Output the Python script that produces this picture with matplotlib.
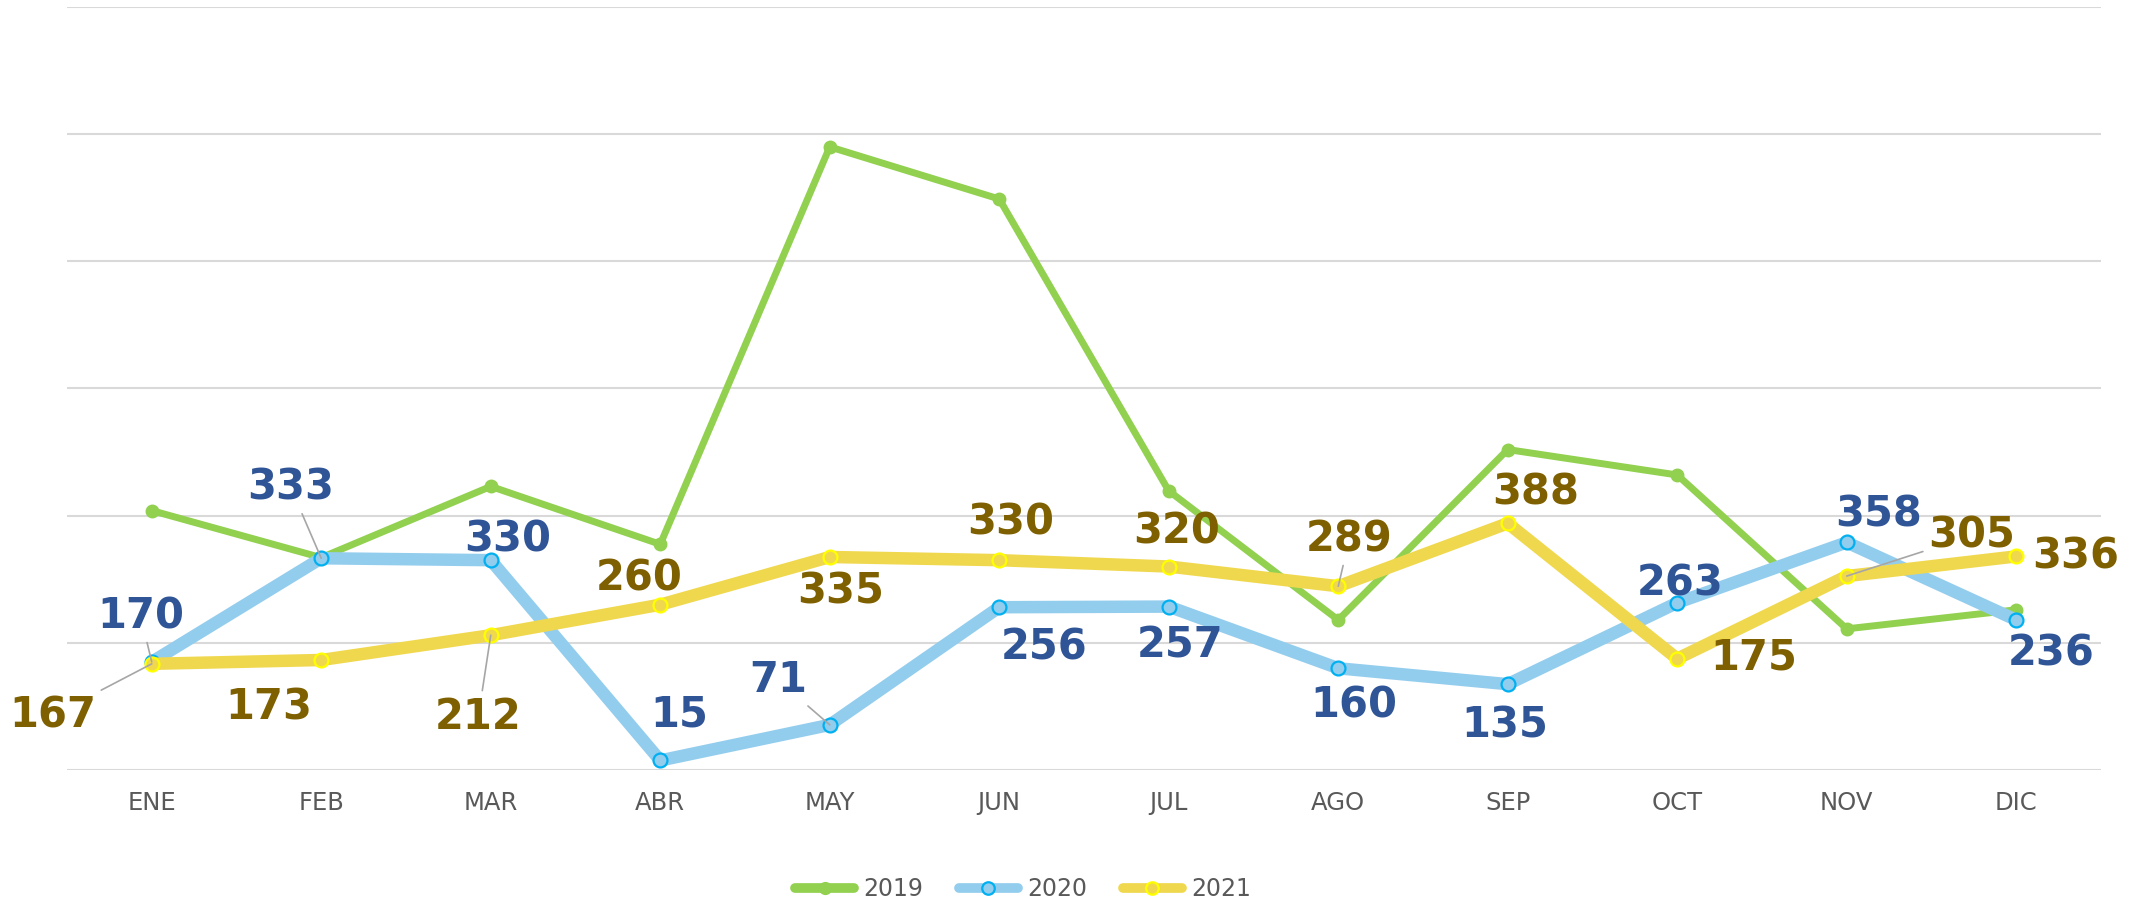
import numpy as np
import matplotlib.pyplot as plt
from matplotlib.lines import Line2D

months = ["ENE", "FEB", "MAR", "ABR", "MAY", "JUN", "JUL", "AGO", "SEP", "OCT", "NOV", "DIC"]
v2019 = [408, 334, 446, 355, 980, 898, 439, 236, 504, 464, 222, 252]
v2020 = [170, 333, 330, 15, 71, 256, 257, 160, 135, 263, 358, 236]
v2021 = [167, 173, 212, 260, 335, 330, 320, 289, 388, 175, 305, 336]

# label offsets (points) relative to each point, and which ones carry a leader line
off2020 = [(-8, 33), (-22, 51), (12, 15), (14, 33), (-37, 32), (32, -29),
           (8, -28), (11, -27), (-2, -30), (2, 14), (23, 20), (25, -24)]
lead2020 = [True, True, False, False, True, False, False, False, False, False, False, False]
off2021 = [(-71, -37), (-38, -34), (-9, -59), (-15, 19), (8, -25), (8, 27),
           (6, 25), (8, 34), (20, 22), (55, 1), (90, 29), (43, 0)]
lead2021 = [True, False, True, False, False, False, False, True, False, False, True, False]

c19 = "#92D050"
c20 = "#93CDEE"
c21 = "#F0D84E"
lab20 = "#2F5597"
lab21 = "#7F6000"
lead_col = "#A6A6A6"
txt_col = "#595959"

fig = plt.figure(figsize=(21.47, 9.02), dpi=100)
ax = fig.add_axes([67 / 2147, 1 - 770 / 902, (2101 - 67) / 2147, (770 - 7) / 902])
x = np.arange(len(months))

ax.plot(x, v2019, color=c19, lw=5, marker="o", ms=9, mfc=c19, mec=c19, zorder=3,
        solid_capstyle="round")
ax.plot(x, v2020, color=c20, lw=9, marker="o", ms=10, mfc=c20, mec="#00B0F0", mew=1.6,
        zorder=4, solid_capstyle="round")
ax.plot(x, v2021, color=c21, lw=9, marker="o", ms=10, mfc=c21, mec="#FFFF00", mew=1.6,
        zorder=5, solid_capstyle="round")

lab_font = dict(fontsize=30, fontweight="bold", family="DejaVu Sans")
for i, v in enumerate(v2020):
    ap = dict(arrowstyle="-", color=lead_col, lw=1.2, shrinkA=2, shrinkB=0) if lead2020[i] else None
    ax.annotate(str(v), (x[i], v), xytext=off2020[i], textcoords="offset points",
                ha="center", va="center", color=lab20, arrowprops=ap, zorder=6, **lab_font)
for i, v in enumerate(v2021):
    ap = dict(arrowstyle="-", color=lead_col, lw=1.2, shrinkA=2, shrinkB=0) if lead2021[i] else None
    ax.annotate(str(v), (x[i], v), xytext=off2021[i], textcoords="offset points",
                ha="center", va="center", color=lab21, arrowprops=ap, zorder=6, **lab_font)

ax.set_xlim(-0.5, len(months) - 0.5)
ax.set_ylim(0, 1200)
ax.set_yticks(np.arange(0, 1201, 200))
ax.set_yticklabels([])
ax.set_xticks(x)
ax.set_xticklabels(months, fontsize=17.5, color=txt_col, family="DejaVu Sans")
ax.tick_params(axis="both", length=0)
ax.tick_params(axis="x", pad=15)
ax.grid(True, axis="y", color="#D9D9D9", lw=1.5)
ax.set_axisbelow(True)
for s in ax.spines.values():
    s.set_visible(False)

handles = [
    Line2D([], [], color=c19, lw=7, marker="o", ms=8.5, mfc=c19, mec=c19, solid_capstyle="round"),
    Line2D([], [], color=c20, lw=7, marker="o", ms=9, mfc=c20, mec="#00B0F0", mew=1.6, solid_capstyle="round"),
    Line2D([], [], color=c21, lw=7, marker="o", ms=9, mfc=c21, mec="#FFFF00", mew=1.6, solid_capstyle="round"),
]
leg = fig.legend(handles, ["2019", "2020", "2021"], loc="center", ncol=3,
                 bbox_to_anchor=(1023 / 2147, 1 - 889 / 902), frameon=False,
                 prop=dict(size=17, family="DejaVu Sans"),
                 handlelength=2.5, columnspacing=1.5, handletextpad=0.4)
for t in leg.get_texts():
    t.set_color(txt_col)

fig.savefig("out.png", dpi=100)
